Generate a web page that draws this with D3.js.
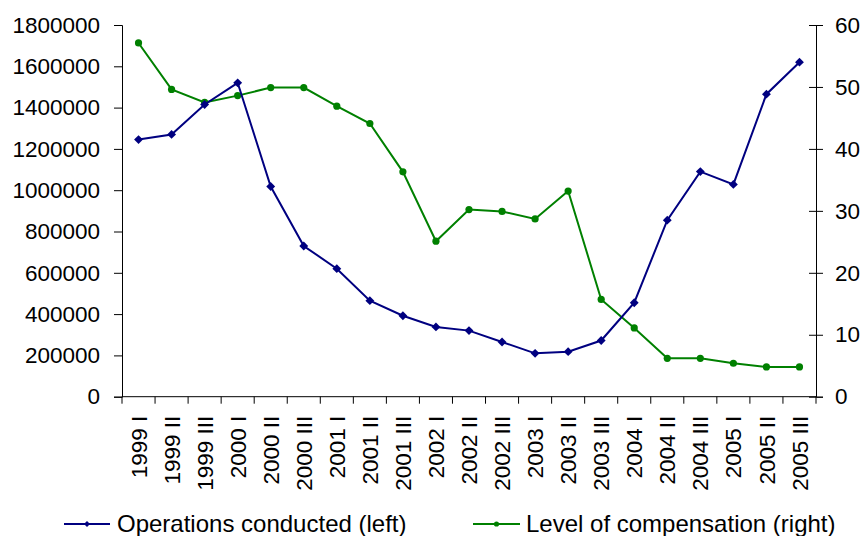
<!DOCTYPE html>
<html><head><meta charset="utf-8">
<script src="https://cdn.jsdelivr.net/npm/d3@7"></script>
<style>body{margin:0;background:#fff}svg{display:block;font-family:"Liberation Sans",Arial,sans-serif}</style>
</head><body><svg id="c" width="863" height="536"></svg>
<script>
const categories = ["1999 I","1999 II","1999 III","2000 I","2000 II","2000 III","2001 I","2001 II","2001 III","2002 I","2002 II","2002 III","2003 I","2003 II","2003 III","2004 I","2004 II","2004 III","2005 I","2005 II","2005 III"];
const operations = [1245000,1270000,1415000,1520000,1018000,730000,620000,465000,392000,338000,320000,265000,210000,218000,272000,455000,855000,1090000,1028000,1465000,1620000];
const compensation = [57.1,49.6,47.5,48.6,49.9,49.9,46.9,44.1,36.3,25.1,30.2,29.9,28.7,33.2,15.7,11.1,6.2,6.2,5.4,4.8,4.8];
const leftTicks = [0,200000,400000,600000,800000,1000000,1200000,1400000,1600000,1800000];
const rightTicks = [0,10,20,30,40,50,60];
const seriesNames = ["Operations conducted (left)","Level of compensation (right)"];

const svg = d3.select("#c");
const L = 122, R = 816, T = 25, B = 396.7;
const fs = 22.5, lfs = 24;
const x = d3.scaleBand().domain(categories).range([L, R]);
const yl = d3.scaleLinear().domain([0,1800000]).range([B, T]);
const yr = d3.scaleLinear().domain([0,60]).range([B, T]);

const gl = svg.append("g").attr("transform",`translate(${L},0)`)
  .call(d3.axisLeft(yl).tickValues(leftTicks).tickFormat(d3.format("d")).tickSize(8).tickPadding(14));
const gr = svg.append("g").attr("transform",`translate(${R},0)`)
  .call(d3.axisRight(yr).tickValues(rightTicks).tickSize(7).tickPadding(12));
gr.selectAll(".tick line").attr("x1",-7);
const gb = svg.append("g").attr("transform",`translate(0,${B})`)
  .call(d3.axisBottom(x).tickSize(0).tickFormat(d=>d));
gb.select(".domain").attr("d",`M${L},0H${R}`);
gb.selectAll(".tick text").attr("transform","rotate(-90)").attr("text-anchor","end")
  .attr("x",-19).attr("y",0).attr("dy","0.36em").attr("dx",0);
const bounds = categories.map(c=>x(c)).concat([R]);
svg.append("g").selectAll("line").data(bounds).join("line")
  .attr("x1",d=>d).attr("x2",d=>d).attr("y1",B).attr("y2",B+7).attr("stroke","#000").attr("stroke-width",1);

[gl,gr,gb].forEach(g=>{
  g.selectAll("text").attr("font-size",fs).attr("font-family","Liberation Sans, Arial, sans-serif").attr("fill","#000");
  g.selectAll("line,path").attr("stroke","#000");
});

const cx = d => x(d) + x.bandwidth()/2;
const blue = "#000080", green = "#008000";

const lineL = d3.line().x((d,i)=>cx(categories[i])).y(d=>yl(d));
const lineR = d3.line().x((d,i)=>cx(categories[i])).y(d=>yr(d));
svg.append("path").attr("d",lineR(compensation)).attr("fill","none").attr("stroke",green).attr("stroke-width",2);
svg.append("g").selectAll("circle").data(compensation).join("circle")
  .attr("cx",(d,i)=>cx(categories[i])).attr("cy",d=>yr(d)).attr("r",3.6).attr("fill",green);
svg.append("path").attr("d",lineL(operations)).attr("fill","none").attr("stroke",blue).attr("stroke-width",2);
const diamond = d3.symbol().type(d3.symbolDiamond2).size(50);
svg.append("g").selectAll("path").data(operations).join("path")
  .attr("d",diamond).attr("transform",(d,i)=>`translate(${cx(categories[i])},${yl(d)})`).attr("fill",blue);

const leg = [
  {name:seriesNames[0], color:blue, x0:64, x1:110, sym:"d", tx:117},
  {name:seriesNames[1], color:green, x0:473, x1:520, sym:"c", tx:526}
];
const ly = 524;
leg.forEach(l=>{
  svg.append("line").attr("x1",l.x0).attr("x2",l.x1).attr("y1",ly).attr("y2",ly).attr("stroke",l.color).attr("stroke-width",2);
  const mx = (l.x0+l.x1)/2;
  if(l.sym==="d") svg.append("path").attr("d",d3.symbol().type(d3.symbolDiamond2).size(24)).attr("transform",`translate(${mx},${ly})`).attr("fill",l.color);
  else svg.append("circle").attr("cx",mx).attr("cy",ly).attr("r",2.6).attr("fill",l.color);
  svg.append("text").attr("x",l.tx).attr("y",ly).attr("dy","0.35em").attr("font-size",lfs).attr("fill","#000").text(l.name);
});
</script></body></html>
